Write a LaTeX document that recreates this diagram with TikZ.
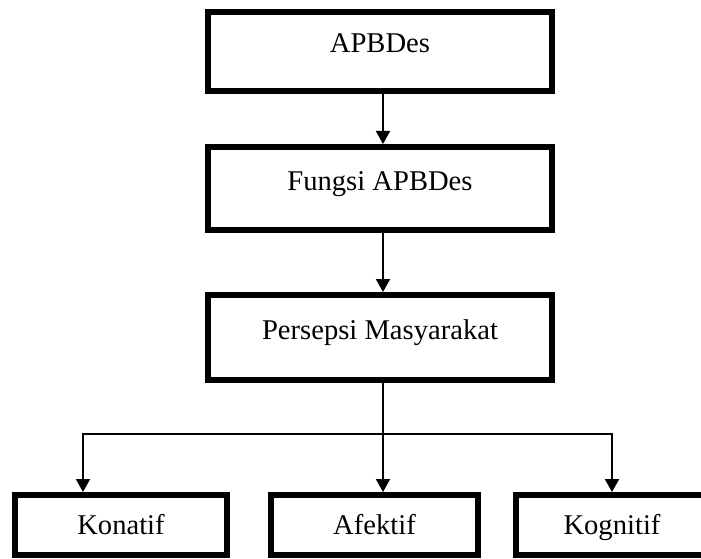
\documentclass[tikz,border=0pt]{standalone}
\usepackage{fontspec}
\setmainfont{Liberation Serif}
\usetikzlibrary{positioning,arrows.meta}

\tikzstyle{block} = [rectangle, draw, line width=6pt, inner sep=0pt,
    font=\fontsize{28.6}{34}\selectfont, text centered,
    minimum width=344pt, minimum height=79pt, text height=19pt, text depth=16pt]
\tikzstyle{leaf} = [block, minimum width=212pt, minimum height=60pt, text depth=0pt]
\tikzstyle{line} = [draw, line width=2pt, -{Triangle[length=13pt,width=14pt]}]

\begin{document}
\begin{tikzpicture}[x=1pt, y=1pt, node distance=50pt]
    \useasboundingbox (0,0) rectangle (701,-559);
    \node [block] at (380,-51.5) (apbdes) {APBDes};
    \node [block, below=of apbdes, minimum height=83pt] (fungsi) {Fungsi APBDes};
    \node [block, below=59pt of fungsi, minimum height=85pt] (persepsi) {Persepsi Masyarakat};

    \node [leaf, below=109pt of persepsi, xshift=-5.5pt, minimum width=207pt] (afektif) {Afektif};
    \node [leaf, left=38pt of afektif] (konatif) {Konatif};
    \node [leaf, right=32pt of afektif, minimum width=192pt] (kognitif) {Kognitif};

    \coordinate [below=51pt of persepsi.south, xshift=3pt] (split);

    \path [line] ([xshift=3pt]apbdes.south) -- ([xshift=3pt]fungsi.north);
    \path [line] ([xshift=3pt]fungsi.south) -- ([xshift=3pt]persepsi.north);
    \path [line] ([xshift=3pt]persepsi.south) -- (split) -- (split |- afektif.north);
    \path [line] (split) -| ([xshift=-38pt]konatif.north);
    \path [line] (split) -| (kognitif.north);
\end{tikzpicture}
\end{document}
